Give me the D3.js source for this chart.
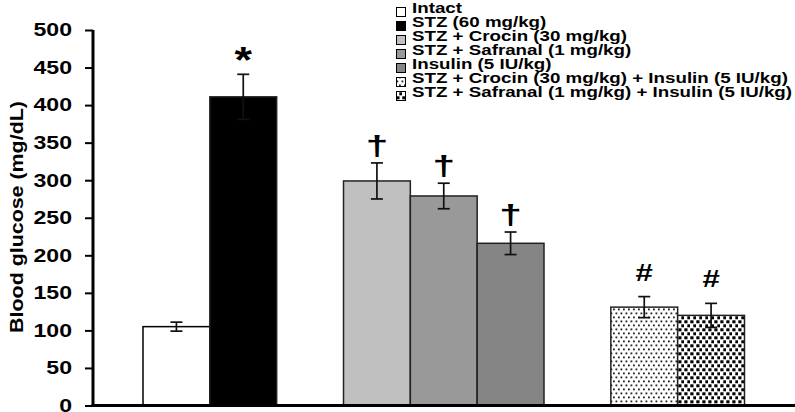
<!DOCTYPE html>
<html><head><meta charset="utf-8">
<script src="https://cdn.jsdelivr.net/npm/d3@7"></script>
<style>
html,body{margin:0;padding:0;background:#fff;}
text{font-family:Arial,"Liberation Sans",sans-serif;font-weight:bold;}
</style></head>
<body><svg id="c" width="795" height="412"></svg>
<script>
// ---- data ----
const labels = ["Intact","STZ (60 mg/kg)","STZ + Crocin (30 mg/kg)","STZ + Safranal (1 mg/kg)","Insulin (5 IU/kg)","STZ + Crocin (30 mg/kg) + Insulin (5 IU/kg)","STZ + Safranal (1 mg/kg) + Insulin (5 IU/kg)"];
const slots = ["Intact","STZ","gap1","Crocin","Safranal","Insulin","gap2","CrocinIns","SafranalIns"];
const keys = ["Intact","STZ","Crocin","Safranal","Insulin","CrocinIns","SafranalIns"];
const means = [105, 411, 299, 279, 216, 131, 120];
const errs = [6, 30, 24, 17, 15, 14, 16];
const marks = ["", "*", "\u2020", "\u2020", "\u2020", "#", "#"];
const yTicks = [0,50,100,150,200,250,300,350,400,450,500];
const fills = ["#ffffff","#000000","#c0c0c0","#999999","#858585","url(#patA)","url(#patB)"];

const svg = d3.select("#c");
const defs = svg.append("defs");
const pA = defs.append("pattern").attr("id","patA").attr("patternUnits","userSpaceOnUse").attr("width",5).attr("height",8);
pA.append("rect").attr("width",5).attr("height",8).attr("fill","#fff");
pA.append("rect").attr("x",0.5).attr("y",0.5).attr("width",1.8).attr("height",1.8).attr("fill","#222");
pA.append("rect").attr("x",3).attr("y",4.5).attr("width",1.8).attr("height",1.8).attr("fill","#222");
const pB = defs.append("pattern").attr("id","patB").attr("patternUnits","userSpaceOnUse").attr("width",6).attr("height",8);
pB.append("rect").attr("width",6).attr("height",8).attr("fill","#fff");
pB.append("rect").attr("x",0.3).attr("y",0.3).attr("width",3.2).attr("height",3).attr("fill","#000");
pB.append("rect").attr("x",3.3).attr("y",4.3).attr("width",3.2).attr("height",3).attr("fill","#000");

const y = d3.scaleLinear().domain([0,500]).range([405.5,30]);
const x = d3.scaleBand().domain(slots).range([143,744.5]).padding(0);

// helper: text stretched along its own direction
function wideText(parent, tx, ty, rot, sx, size, anchor, str){
  const g = parent.append("g").attr("transform",`translate(${tx},${ty}) rotate(${rot}) scale(${sx},1)`);
  return g.append("text").attr("x",0).attr("y",0).attr("text-anchor",anchor).attr("font-size",size).text(str);
}

// bars
const data = keys.map((k,i)=>({k, m:means[i], e:errs[i], f:fills[i], mark:marks[i]}));
svg.append("g").selectAll("rect").data(data).join("rect")
  .attr("x",d=>x(d.k)).attr("width",x.bandwidth())
  .attr("y",d=>y(d.m)).attr("height",d=>y(0)-y(d.m))
  .attr("fill",d=>d.f).attr("stroke",d=>d.k==="Intact"?"#000":"#222").attr("stroke-width",1.5);

// error bars
const eg = svg.append("g").attr("stroke","#111").attr("stroke-width",1.7);
data.forEach(d=>{
  const cx = x(d.k)+x.bandwidth()/2;
  eg.append("line").attr("x1",cx).attr("x2",cx).attr("y1",y(d.m+d.e)).attr("y2",y(d.m-d.e));
  eg.append("line").attr("x1",cx-6).attr("x2",cx+6).attr("y1",y(d.m+d.e)).attr("y2",y(d.m+d.e));
  eg.append("line").attr("x1",cx-6).attr("x2",cx+6).attr("y1",y(d.m-d.e)).attr("y2",y(d.m-d.e));
});

// significance marks
const mg = svg.append("g");
data.filter(d=>d.mark).forEach(d=>{
  const cx = x(d.k)+x.bandwidth()/2;
  const top = y(d.m+d.e);
  if(d.mark==="*") wideText(mg, cx, top-1, 0, 1.25, 36, "middle", d.mark);
  else if(d.mark==="#") wideText(mg, cx, top-16, 0, 1.3, 24, "middle", d.mark);
  else wideText(mg, cx, top-8, 0, 1.45, 28, "middle", d.mark);
});

// y axis
const yAxis = d3.axisLeft(y).tickValues(yTicks).tickSize(8).tickFormat("");
const ga = svg.append("g").attr("transform","translate(93,0)").call(yAxis);
ga.select(".domain").remove();
ga.selectAll(".tick line").attr("stroke","#000").attr("stroke-width",2);
const lblG = svg.append("g");
yTicks.forEach(v=>wideText(lblG, 72, y(v)+6.3, 0, 1.32, 17.5, "end", d3.format("d")(v)));
svg.append("line").attr("x1",93).attr("x2",93).attr("y1",y(500)).attr("y2",y(0)+1.5).attr("stroke","#000").attr("stroke-width",3);
svg.append("line").attr("x1",91.5).attr("x2",795).attr("y1",y(0)).attr("y2",y(0)).attr("stroke","#000").attr("stroke-width",3);

// y title
wideText(svg, 23, 217, -90, 1.19, 18, "middle", "Blood glucose (mg/dL)");

// legend
const lg = svg.append("g").attr("transform","translate(396,0)");
labels.forEach((t,i)=>{
  const yy = 13 + i*14;
  lg.append("rect").attr("x",0.5).attr("y",yy-5.5).attr("width",9).attr("height",9)
    .attr("fill",fills[i]).attr("stroke","#000").attr("stroke-width",1);
  wideText(lg, 16, yy, 0, 1.25, 15, "start", t);
});
</script></body></html>
